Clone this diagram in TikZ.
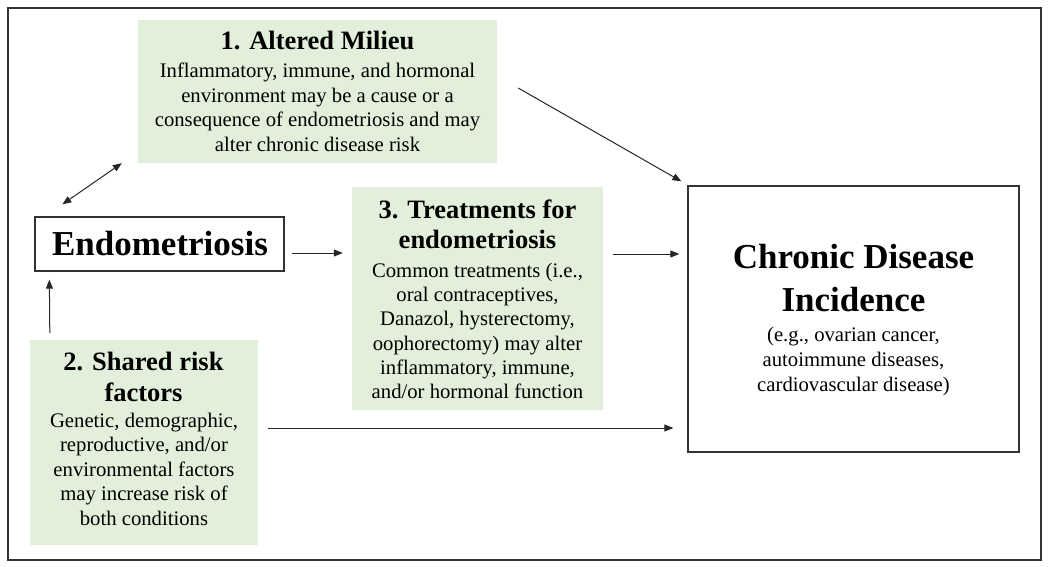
\documentclass[tikz,border=0pt]{standalone}
\usepackage{fontspec}
\setmainfont{Liberation Serif}
\usetikzlibrary{arrows.meta}
\definecolor{grn}{HTML}{E2EFDA}
\definecolor{ln}{HTML}{333333}
\tikzset{
  greenbox/.style={fill=grn, draw=none, inner sep=0pt, rectangle},
  whitebox/.style={fill=white, draw=ln, line width=1.3pt, inner sep=0pt, rectangle},
  bodytxt/.style={inner sep=0pt, align=center, anchor=north, font=\fontsize{20.7}{24.6}\selectfont},
  titletxt/.style={inner sep=0pt, align=center, anchor=north, font=\fontsize{26.5}{30.5}\selectfont\bfseries},
  arr/.style={draw=black!85, line width=1pt, -{Triangle[length=9pt,width=7pt]}},
  arrtwo/.style={draw=black!85, line width=1pt, {Triangle[length=9pt,width=7pt]}-{Triangle[length=9pt,width=7pt]}}
}
\begin{document}
\begin{tikzpicture}[x=1pt,y=-1pt]
\useasboundingbox (0,0) rectangle (1050,567);
\draw[ln, line width=2pt] (8,8) rectangle (1041,560);

% boxes
\node[greenbox, minimum width=359pt, minimum height=143pt] (m1) at (317.5,91.5) {};
\node[whitebox, minimum width=249pt, minimum height=54pt] (endo) at (159.5,244) {};
\node[greenbox, minimum width=251pt, minimum height=223pt] (m3) at (477.5,298.5) {};
\node[greenbox, minimum width=228pt, minimum height=205pt] (m2) at (144,442.5) {};
\node[whitebox, minimum width=331pt, minimum height=266pt] (cd) at (853.5,319) {};

% texts
\node[inner sep=0pt, anchor=base, font=\fontsize{26.5}{30.5}\selectfont\bfseries] (m1t) at (317.5,50) {1. Altered Milieu};
\node[bodytxt] (m1b) at (317.5,62.9) {Inflammatory, immune, and hormonal\\environment may be a cause or a\\consequence of endometriosis and may\\alter chronic disease risk};

\node[inner sep=0pt, anchor=base, font=\fontsize{35}{42}\selectfont\bfseries] (endot) at (160,255) {Endometriosis};

\node[titletxt, font=\fontsize{26.5}{30}\selectfont\bfseries] (m3t) at (477.5,200) {3. Treatments for\\endometriosis};
\node[bodytxt, font=\fontsize{20.7}{24.2}\selectfont] (m3b) at (477.5,262.9) {Common treatments (i.e.,\\oral contraceptives,\\Danazol, hysterectomy,\\oophorectomy) may alter\\inflammatory, immune,\\and/or hormonal function};

\node[titletxt, font=\fontsize{26.5}{31}\selectfont\bfseries] (m2t) at (143.5,351.7) {2. Shared risk\\factors};
\node[bodytxt] (m2b) at (144,412.6) {Genetic, demographic,\\reproductive, and/or\\environmental factors\\may increase risk of\\both conditions};

\node[titletxt, font=\fontsize{35}{43.4}\selectfont\bfseries] (cdt) at (853.5,244) {Chronic Disease\\Incidence};
\node[bodytxt, font=\fontsize{20.7}{25}\selectfont] (cdb) at (853.5,327.3) {(e.g., ovarian cancer,\\autoimmune diseases,\\cardiovascular disease)};

% connectors
\draw[arrtwo] ([xshift=28pt,yshift=12pt]endo.north west) -- ([xshift=-16pt]m1.south west);
\draw[arr] ([xshift=20pt,yshift=7pt]m2.north west) -- ([xshift=15pt,yshift=-8pt]endo.south west);
\draw[arr] ([xshift=7pt,yshift=-9pt]endo.east) -- ([xshift=-9pt,yshift=45.5pt]m3.west);
\draw[arr] ([xshift=10pt,yshift=44.5pt]m3.east) -- ([xshift=-8pt,yshift=65pt]cd.west);
\draw[arr] ([xshift=21pt,yshift=3.5pt]m1.east) -- ([xshift=-6pt,yshift=4pt]cd.north west);
\draw[arr] ([xshift=10pt,yshift=14.5pt]m2.east) -- ([xshift=-14pt,yshift=-109pt]cd.west);
\end{tikzpicture}
\end{document}
